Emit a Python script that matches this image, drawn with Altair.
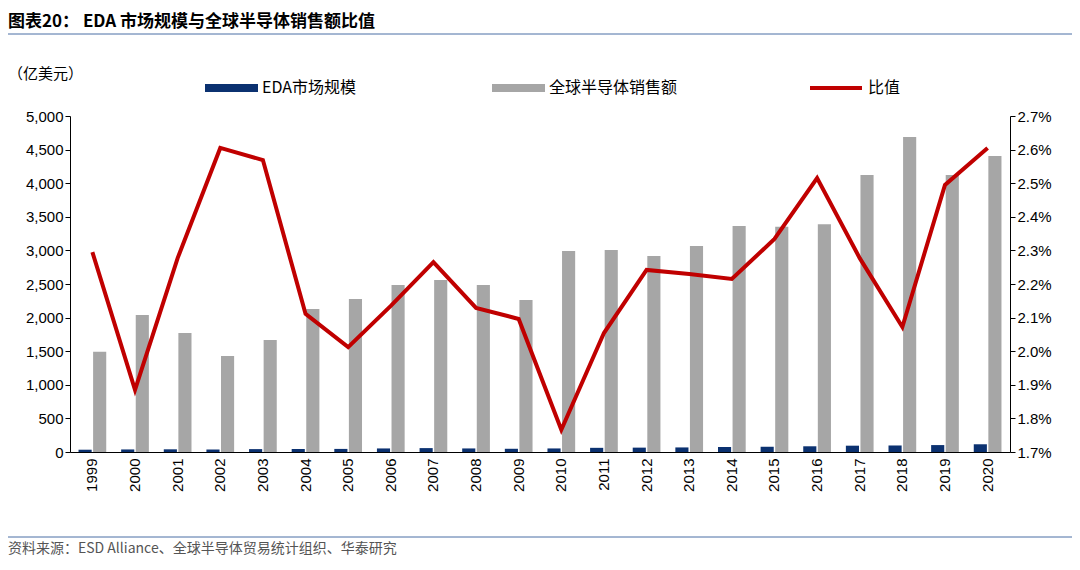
import pandas as pd
import altair as alt

years = [str(y) for y in range(1999, 2021)]
sales = [1490, 2039, 1771, 1429, 1667, 2128, 2277, 2485, 2560, 2485, 2263, 2991,
         3006, 2917, 3065, 3363, 3352, 3389, 4122, 4688, 4122, 4404]
ratio = [2.295, 1.885, 2.277, 2.605, 2.569, 2.111, 2.012, 2.135, 2.265, 2.129, 2.096, 1.766,
         2.054, 2.242, 2.230, 2.215, 2.334, 2.515, 2.277, 2.072, 2.495, 2.605]
eda = [34, 38, 40, 37, 43, 45, 46, 53, 58, 53, 48, 53, 62, 65, 68, 74, 78, 85, 94, 97, 103, 115]
ratio_ticks = [1.7, 1.8, 1.9, 2.0, 2.1, 2.2, 2.3, 2.4, 2.5, 2.6, 2.7]

FONT = "Noto Sans CJK SC"
NAVY, GRAY, RED = "#0b3170", "#a6a6a6", "#c00000"

bars = pd.DataFrame({
    "year": years * 2,
    "series": ["EDA"] * 22 + ["全球"] * 22,
    "value": eda + sales,
})
line_df = pd.DataFrame({"year": years, "ratio": ratio})

xscale = alt.Scale(domain=years, paddingInner=0.35, paddingOuter=0.2)
xaxis = alt.Axis(title=None, labelAngle=-90, labelFontSize=15, labelColor="#000",
                 labelFont="Arial", ticks=False, domainColor="#000", labelPadding=6,
                 labelAlign="right", labelBaseline="middle")

bar = alt.Chart(bars).mark_bar().encode(
    x=alt.X("year:N", scale=xscale, axis=xaxis),
    xOffset=alt.XOffset("series:N", scale=alt.Scale(domain=["EDA", "全球"], paddingInner=0.1)),
    y=alt.Y("value:Q", scale=alt.Scale(domain=[0, 5000]),
            axis=alt.Axis(title=None, format=",.0f", values=list(range(0, 5001, 500)),
                          grid=False, labelFontSize=15, labelColor="#000", labelFont="Arial",
                          tickColor="#000", domainColor="#000", tickSize=5)),
    color=alt.Color("series:N", scale=alt.Scale(domain=["EDA", "全球"], range=[NAVY, GRAY]),
                    legend=None),
)

line = alt.Chart(line_df).mark_line(color=RED, strokeWidth=4).encode(
    x=alt.X("year:N", scale=xscale, axis=xaxis),
    y=alt.Y("ratio:Q", scale=alt.Scale(domain=[1.7, 2.7]),
            axis=alt.Axis(title=None, orient="right", values=ratio_ticks,
                          labelExpr="format(datum.value, '.1f') + '%'",
                          grid=False, labelFontSize=15, labelColor="#000", labelFont="Arial",
                          tickColor="#000", domainColor="#000", tickSize=5)),
)

deco = pd.DataFrame({"k": [0]})
base = alt.Chart(deco)
legend = [
    base.mark_rule(color=NAVY, strokeWidth=8).encode(x=alt.value(135), x2=alt.value(188), y=alt.value(-28)),
    base.mark_text(text="EDA市场规模", align="left", fontSize=16, font=FONT).encode(x=alt.value(192), y=alt.value(-28)),
    base.mark_rule(color=GRAY, strokeWidth=8).encode(x=alt.value(422), x2=alt.value(475), y=alt.value(-28)),
    base.mark_text(text="全球半导体销售额", align="left", fontSize=16, font=FONT).encode(x=alt.value(479), y=alt.value(-28)),
    base.mark_rule(color=RED, strokeWidth=4).encode(x=alt.value(740), x2=alt.value(792), y=alt.value(-28)),
    base.mark_text(text="比值", align="left", fontSize=16, font=FONT).encode(x=alt.value(798), y=alt.value(-28)),
    base.mark_text(text="（亿美元）", align="left", fontSize=15, font=FONT).encode(x=alt.value(-62), y=alt.value(-42)),
    base.mark_text(text="图表20：   EDA 市场规模与全球半导体销售额比值", align="left", fontSize=17,
                   fontWeight="bold", font=FONT).encode(x=alt.value(-62), y=alt.value(-94)),
    base.mark_rule(color="#4a6fa5", strokeWidth=1).encode(x=alt.value(-62), x2=alt.value(1002), y=alt.value(-82)),
    base.mark_rule(color="#4a6fa5", strokeWidth=1).encode(x=alt.value(-62), x2=alt.value(1002), y=alt.value(421)),
    base.mark_text(text="资料来源：ESD Alliance、全球半导体贸易统计组织、华泰研究", align="left", fontSize=14,
                   color="#555", font=FONT).encode(x=alt.value(-62), y=alt.value(433)),
]

chart = alt.layer(bar, line, *legend).resolve_scale(y="independent").properties(
    width=940, height=336,
    autosize=alt.AutoSizeParams(type="none"),
    padding={"left": 62, "top": 108, "right": 62, "bottom": 110},
).configure_view(stroke=None)

chart.save("out.html", embed_options={"renderer": "svg", "actions": False})
